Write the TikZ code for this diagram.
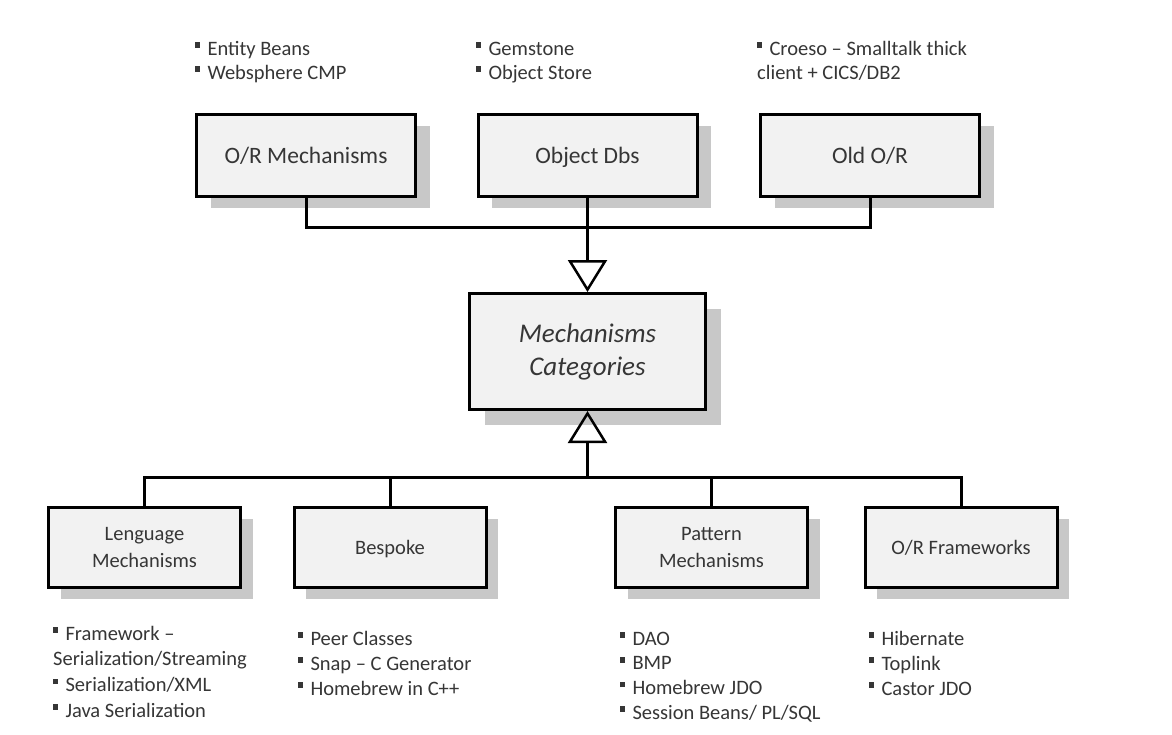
\documentclass[tikz,border=0pt]{standalone}
\usepackage{fontspec}
\setmainfont{Carlito}
\usetikzlibrary{arrows.meta,shadows}
\definecolor{boxfill}{HTML}{F2F2F2}
\definecolor{shade}{HTML}{C8C8C8}
\definecolor{ink}{HTML}{363636}
% small square bullet used in the item lists
\newcommand\bul{\raisebox{0.35em}{\rule{0.24em}{0.27em}}\hspace{0.36em}}
\begin{document}
\begin{tikzpicture}[x=1pt,y=-1pt,
  box/.style={draw=black, line width=3pt, fill=boxfill, rectangle, inner sep=0pt,
    text=ink, align=center},
  oneline/.style={text depth=0pt},
  topbox/.style={box, oneline, minimum width=219pt, minimum height=82pt,
    font=\fontsize{23.5}{28}\selectfont,
    drop shadow={shadow xshift=14pt, shadow yshift=-11pt, fill=shade, opacity=1}},
  catbox/.style={box, minimum width=236pt, minimum height=116pt,
    font=\fontsize{27}{33}\selectfont\itshape,
    drop shadow={shadow xshift=15pt, shadow yshift=-15pt, fill=shade, opacity=1}},
  botbox/.style={box, minimum width=192pt, minimum height=80pt,
    font=\fontsize{20.5}{27}\selectfont,
    drop shadow={shadow xshift=12pt, shadow yshift=-11pt, fill=shade, opacity=1}},
  conn/.style={draw=black, line width=3pt},
  gen/.style={-{Triangle[open, length=32pt, width=39pt, line width=2.5pt]}},
  list/.style={anchor=base west, inner sep=0pt, text=ink, align=left},
]
\fill[white] (0,0) rectangle (1172,734);
\useasboundingbox (0,0) rectangle (1172,734);

% top row
\node[topbox] (orm)   at (306,155.5)   {O/R Mechanisms};
\node[topbox] (objdb) at (587.5,155.5) {Object Dbs};
\node[topbox] (old)   at (870,155.5)   {Old O/R};

% central category
\node[catbox] (cat) at (587.5,351.5) {Mechanisms\\Categories};

% bottom row
\node[botbox] (lang) at (144.5,547.5) {Lenguage\\Mechanisms};
\node[botbox, oneline] (bes)  at (390,547.5)   {Bespoke};
\node[botbox] (pat)  at (711.5,547.5) {Pattern\\Mechanisms};
\node[botbox, oneline] (orf)  at (961,547.5)   {O/R Frameworks};

% bus points
\coordinate (topbus) at (587.5,227);
\coordinate (botbus) at (587.5,477);

% generalisation connectors
\draw[conn] (orm.south) |- (topbus);
\draw[conn] (old.south) |- (topbus);
\draw[conn,gen] (objdb.south) -- (cat.north);

\draw[conn,gen] (botbus) -- (cat.south);
\draw[conn] (lang.north) |- (botbus);
\draw[conn] (orf.north) |- (botbus);
\draw[conn] (bes.north) -- (bes.north |- botbus);
\draw[conn] (pat.north) -- (pat.north |- botbus);

% item lists
\node[list, font=\fontsize{20.5}{24}\selectfont] (lorm) at (195,55)
  {\begin{tabular}[t]{@{}l@{}}\bul Entity Beans\\\bul Websphere CMP\end{tabular}};
\node[list, font=\fontsize{20.5}{24}\selectfont] (lobj) at (476,55)
  {\begin{tabular}[t]{@{}l@{}}\bul Gemstone\\\bul Object Store\end{tabular}};
\node[list, font=\fontsize{20.5}{24}\selectfont] (lold) at (757,55)
  {\begin{tabular}[t]{@{}l@{}}\bul Croeso -- Smalltalk thick\\client + CICS/DB2\end{tabular}};

\node[list, font=\fontsize{20.5}{25.7}\selectfont] (llang) at (53,640)
  {\begin{tabular}[t]{@{}l@{}}\bul Framework --\\Serialization/Streaming\\\bul Serialization/XML\\\bul Java Serialization\end{tabular}};
\node[list, font=\fontsize{20.5}{25}\selectfont] (lbes) at (298,645)
  {\begin{tabular}[t]{@{}l@{}}\bul Peer Classes\\\bul Snap -- C Generator\\\bul Homebrew in C++\end{tabular}};
\node[list, font=\fontsize{20.5}{24.7}\selectfont] (lpat) at (620,645)
  {\begin{tabular}[t]{@{}l@{}}\bul DAO\\\bul BMP\\\bul Homebrew JDO\\\bul Session Beans/ PL/SQL\end{tabular}};
\node[list, font=\fontsize{20.5}{25}\selectfont] (lorf) at (869,645)
  {\begin{tabular}[t]{@{}l@{}}\bul Hibernate\\\bul Toplink\\\bul Castor JDO\end{tabular}};
\end{tikzpicture}
\end{document}
